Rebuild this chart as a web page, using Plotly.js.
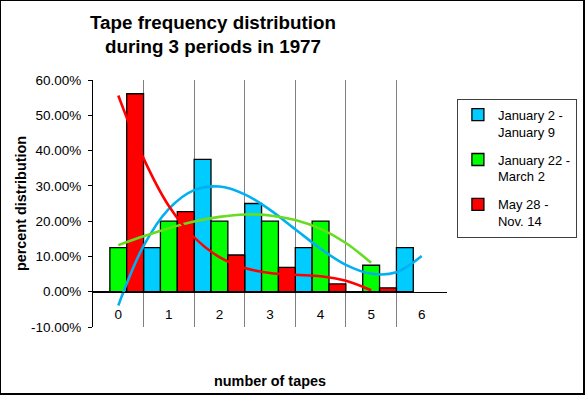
<!DOCTYPE html>
<html>
<head>
<meta charset="utf-8">
<script src="https://cdn.plot.ly/plotly-3.0.1.min.js"></script>
<style>
  html, body { margin:0; padding:0; background:#fff; }
  #wrap { position:relative; width:585px; height:395px; }
  #chart { position:absolute; left:0; top:0; width:585px; height:395px; }
  #frame { position:absolute; left:0; top:0; width:582px; height:392px;
           border-left:1px solid #000; border-top:1px solid #000;
           border-right:2px solid #000; border-bottom:2px solid #000; pointer-events:none; }
</style>
</head>
<body>
<div id="wrap"><div id="chart"></div><div id="frame"></div></div>
<script>
// Categories (number of tapes)
const categories = [0, 1, 2, 3, 4, 5, 6];
const categoryLabels = ['0', '1', '2', '3', '4', '5', '6'];
const categoryBoundaries = [0.5, 1.5, 2.5, 3.5, 4.5, 5.5];

// Series names
const seriesNames = ['January 2 -<br>January 9', 'January 22 -<br>March 2', 'May 28 -<br>Nov. 14'];

// Percent distribution per category
const jan2_jan9   = [0, 12.5, 37.5, 25, 12.5, 0, 12.5];
const jan22_mar2  = [12.5, 20, 20, 20, 20, 7.5, null];
const may28_nov14 = [56.1, 22.7, 10.4, 6.9, 2.2, 1.1, null];

// Trendlines
const blueTrendX  = [0, 0.5, 1, 1.5, 2, 2.5, 3, 3.5, 4, 4.5, 5, 5.5, 6];
const blueTrendY  = [-3.9, 13.0, 23.5, 28.8, 29.8, 27.6, 23.2, 17.7, 12.2, 7.6, 5.1, 5.5, 10.1];
const greenTrendX = [0, 0.5, 1, 1.5, 2, 2.5, 3, 3.5, 4, 4.5, 5];
const greenTrendY = [13.2, 15.7, 18.0, 19.9, 21.2, 21.9, 21.6, 20.3, 17.8, 13.8, 8.2];
const redTrendX   = [0, 0.5, 1, 1.5, 2, 2.5, 3, 3.5, 4, 4.5, 5];
const redTrendY   = [55.6, 37.8, 24.3, 15.4, 9.8, 6.7, 5.3, 4.8, 4.4, 3.1, 0.4];

// Y ticks
const yTickVals = [-10, 0, 10, 20, 30, 40, 50, 60];
const yTickText = ['-10.00%', '0.00%', '10.00%', '20.00%', '30.00%', '40.00%', '50.00%', '60.00%'];

const barColors = ['#00CCFF', '#00FF00', '#FF0000'];
const trendColors = ['#00B0F0', '#66DD1E', '#FF0000'];

const barSeries = [jan2_jan9, jan22_mar2, may28_nov14];
const traces = barSeries.map((vals, i) => ({
  type: 'bar', x: categories, y: vals, name: seriesNames[i],
  legendgroup: 'g' + i,
  marker: { color: barColors[i], line: { color: '#000', width: 1.3 } },
  hoverinfo: 'skip'
}));

[[blueTrendX, blueTrendY], [greenTrendX, greenTrendY], [redTrendX, redTrendY]].forEach((p, i) => {
  traces.push({
    type: 'scatter', mode: 'lines', x: p[0], y: p[1], showlegend: false,
    legendgroup: 'g' + i,
    line: { color: trendColors[i], width: 2.6, shape: 'spline', smoothing: 1 },
    hoverinfo: 'skip'
  });
});

const layout = {
  width: 585, height: 395,
  margin: { l: 93, r: 138, t: 80, b: 68, autoexpand: false },
  paper_bgcolor: '#fff', plot_bgcolor: '#fff',
  font: { family: 'Arial, "Liberation Sans", sans-serif', color: '#000', size: 13 },
  title: {
    text: '<b>Tape frequency distribution<br>during 3 periods in 1977</b>',
    font: { size: 18.8, color: '#000' },
    x: 213 / 585, xref: 'container', xanchor: 'center',
    y: 1 - 29 / 395, yref: 'container', yanchor: 'top'
  },
  barmode: 'group', bargap: 0, bargroupgap: 0,
  showlegend: true,
  xaxis: {
    type: 'linear', range: [-0.5, 6.5],
    tickvals: categories, ticktext: categoryLabels,
    ticks: '', showgrid: false, zeroline: false,
    showline: true, linecolor: '#000', linewidth: 1,
    anchor: 'free', position: 10 / 70,
    ticklabelstandoff: 10,
    tickfont: { size: 13.5 },
    minor: { tickvals: categoryBoundaries, showgrid: true, gridcolor: '#808080', gridwidth: 1, ticks: '' },
    title: { text: '<b>number of tapes</b>', font: { size: 14.4 }, standoff: 55 }
  },
  yaxis: {
    range: [-10, 60], tickvals: yTickVals, ticktext: yTickText,
    ticks: 'outside', ticklen: 4, tickcolor: '#000',
    showline: true, linecolor: '#000', linewidth: 1,
    showgrid: false, zeroline: false,
    tickfont: { size: 13.5 }, ticklabelstandoff: 4,
    title: { text: '<b>percent distribution</b>', font: { size: 14.4 }, standoff: 0 }
  },
  legend: {
    x: 1.028, xanchor: 'left', y: 0.924, yanchor: 'top',
    bgcolor: '#fff', bordercolor: '#404040', borderwidth: 1,
    font: { size: 13 }, tracegroupgap: 8, traceorder: 'grouped', valign: 'top'
  }
};

Plotly.newPlot('chart', traces, layout, { staticPlot: true, displayModeBar: false });
</script>
</body>
</html>
